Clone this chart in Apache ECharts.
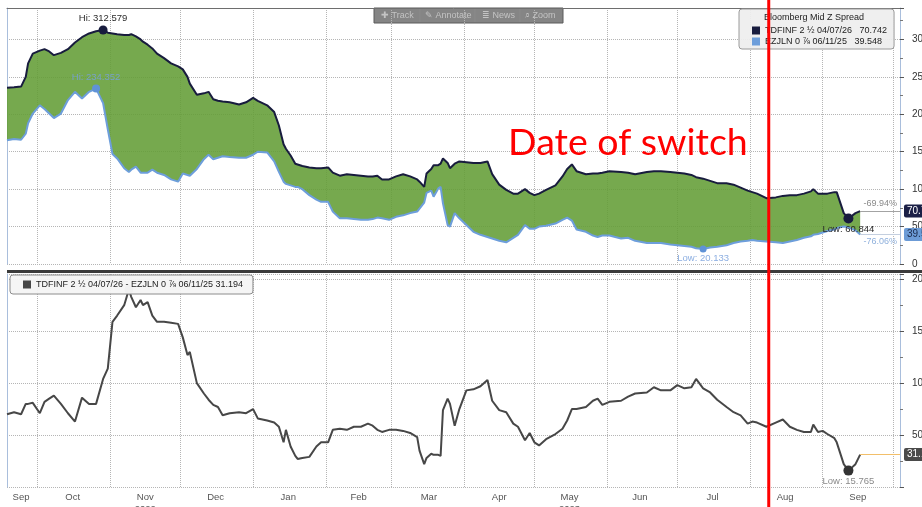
<!DOCTYPE html>
<html>
<head>
<meta charset="utf-8">
<title>TDFINF vs EZJLN - Bloomberg Mid Z Spread</title>
<script src="https://cdn.jsdelivr.net/npm/echarts@6/dist/echarts.min.js"></script>
<style>
  html, body { margin: 0; padding: 0; background: #fff; }
  #chart { width: 922px; height: 507px; }
</style>
</head>
<body>
<div id="chart"></div>
<script>
// sample dates
const dates = [
  '2022-09-18','2022-09-21','2022-09-24','2022-09-26','2022-09-27','2022-09-29','2022-10-02','2022-10-04','2022-10-06','2022-10-08',
  '2022-10-11','2022-10-14','2022-10-17','2022-10-20','2022-10-23','2022-10-26','2022-10-29','2022-10-31','2022-11-02','2022-11-04',
  '2022-11-07','2022-11-09','2022-11-10','2022-11-12','2022-11-14','2022-11-15','2022-11-17','2022-11-19','2022-11-21','2022-11-24',
  '2022-11-27','2022-11-30','2022-12-02','2022-12-04','2022-12-05','2022-12-08','2022-12-11','2022-12-13','2022-12-15','2022-12-17',
  '2022-12-19','2022-12-22','2022-12-26','2022-12-29','2023-01-01','2023-01-03','2023-01-07','2023-01-10','2023-01-12','2023-01-14',
  '2023-01-15','2023-01-17','2023-01-19','2023-01-20','2023-01-22','2023-01-25','2023-01-28','2023-01-30','2023-02-02','2023-02-04',
  '2023-02-07','2023-02-10','2023-02-13','2023-02-16','2023-02-19','2023-02-21','2023-02-23','2023-02-25','2023-02-28','2023-03-03',
  '2023-03-06','2023-03-09','2023-03-12','2023-03-13','2023-03-15','2023-03-16','2023-03-18','2023-03-19','2023-03-21','2023-03-22',
  '2023-03-23','2023-03-25','2023-03-26','2023-03-28','2023-03-30','2023-04-02','2023-04-05','2023-04-08','2023-04-11','2023-04-13',
  '2023-04-16','2023-04-19','2023-04-22','2023-04-24','2023-04-27','2023-04-29','2023-05-01','2023-05-03','2023-05-06','2023-05-10',
  '2023-05-13','2023-05-15','2023-05-17','2023-05-19','2023-05-23','2023-05-26','2023-05-28','2023-05-30','2023-06-02','2023-06-07',
  '2023-06-10','2023-06-13','2023-06-18','2023-06-21','2023-06-24','2023-06-28','2023-07-01','2023-07-04','2023-07-07','2023-07-09',
  '2023-07-12','2023-07-15','2023-07-18','2023-07-22','2023-07-25','2023-07-28','2023-07-31','2023-08-02','2023-08-04','2023-08-08',
  '2023-08-12','2023-08-15','2023-08-18','2023-08-21','2023-08-24','2023-08-27','2023-08-28','2023-08-30','2023-09-01','2023-09-03',
  '2023-09-06','2023-09-07','2023-09-10','2023-09-12','2023-09-15','2023-09-17'
];

// TDFINF 2 1/2 04/07/26 - mid Z spread
const tdfinf = [
  235.3, 236, 237, 250, 268, 281, 285, 287, 284, 279,
  282, 287, 296, 303, 308, 311, 312.579, 309, 308, 307,
  306, 306, 307, 304, 300, 297, 293, 288, 281, 275,
  268, 264, 260, 250, 241, 226, 228, 230, 220, 218,
  217, 216, 213, 216, 222, 218, 212, 203, 185, 160,
  154, 145, 134, 133, 131, 129, 128, 128, 129, 122,
  118, 120, 119, 118, 117, 117, 118, 113, 113, 117,
  120, 117, 113, 110, 103, 121, 127, 132, 132, 134,
  141, 135, 128, 134, 137, 136, 135, 135, 137, 120,
  106, 99, 94, 94, 100, 95, 92, 94, 99, 105,
  117, 127, 133, 124, 120, 121, 121, 122, 124, 123,
  122, 120, 123, 124, 124, 123, 122, 121, 119, 116,
  114, 111, 108, 108, 106, 102, 98, 96, 94, 88,
  89, 91, 92, 92, 94, 97, 100, 94, 94, 94,
  96, 96, 68, 60.844, 68, 70.742
];

// EZJLN 0 7/8 06/11/25 - mid Z spread
const ezjln = [
  165.2, 167, 166, 174, 188, 201, 212, 207, 201, 195,
  201, 219, 230, 221, 230, 234.352, 215, 180, 147, 141,
  128, 123, 126, 130, 122, 122, 122, 126, 122, 119,
  113, 110, 121, 119, 118, 127, 140, 146, 140, 142,
  144, 143, 142, 142, 146, 150, 149, 137, 123, 110,
  107, 105, 103, 103, 100, 92, 86, 83, 83, 70,
  61, 61, 60, 59, 59, 60, 62, 61, 59, 63,
  65, 68, 70, 74, 82, 95, 98, 90, 101, 103,
  81, 52, 50, 68, 61, 52, 43, 39, 36, 34,
  31, 29, 35, 39, 52, 47, 47, 50, 51, 54,
  59, 62, 58, 46, 43, 38, 36, 38, 38, 34,
  35, 31, 28, 28, 28, 26, 25, 24, 23, 21,
  20.133, 22, 23, 25, 28, 30, 31, 32, 31, 30,
  29, 28, 30, 32, 35, 37, 39, 40, 42, 44,
  46, 48, 50, 49, 45, 39.548
];

// TDFINF - EZJLN (lower panel)
const spread = [
  70, 72, 70, 80, 80, 81, 71, 82, 85, 88,
  80, 71, 63, 86, 80, 80, 104, 114, 159, 165,
  175, 190, 183, 173, 180, 175, 178, 165, 159, 159,
  158, 157, 144, 127, 130, 100, 90, 84, 79, 77,
  69, 71, 72, 71, 75, 66, 64, 62, 58, 43,
  55, 39, 30, 27, 28, 29, 39, 43, 43, 55,
  56, 55, 58, 58, 61, 59, 55, 53, 55, 55,
  54, 52, 48, 35, 22, 28, 32, 31, 31, 30,
  74, 85, 80, 59, 75, 93, 94, 97, 103, 83,
  74, 72, 61, 58, 45, 52, 43, 40, 46, 51,
  56, 64, 75, 75, 77, 83, 85, 79, 82, 83,
  87, 90, 91, 96, 93, 93, 98, 95, 96, 104,
  95, 91, 84, 77, 72, 69, 61, 63, 62, 58,
  62, 65, 58, 55, 53, 53, 60, 53, 54, 51,
  47, 43, 22, 15.765, 22, 31.194
];

// x axis: grid lines at month starts, labels in mid month
const monthStarts = [
  '2022-10-01','2022-11-01','2022-12-01','2023-01-01','2023-02-01','2023-03-01',
  '2023-04-01','2023-05-01','2023-06-01','2023-07-01','2023-08-01','2023-09-01','2023-10-01'
];
const labelDates = [
  '2022-09-24','2022-10-16','2022-11-16','2022-12-16','2023-01-16','2023-02-15','2023-03-17',
  '2023-04-16','2023-05-16','2023-06-15','2023-07-16','2023-08-16','2023-09-16'
];
const monthLabels = ['Sep','Oct','Nov','Dec','Jan','Feb','Mar','Apr','May','Jun','Jul','Aug','Sep'];
const yearLabels = ['', '', '2022', '', '', '', '', '', '2023', '', '', '', ''];

const xMin = '2022-09-18';
const xMax = '2023-10-04';
const switchDate = '2023-08-09';

const topName = 'TDFINF 2 ½ 04/07/26';
const lowName = 'EZJLN 0 ⅞ 06/11/25';
const diffName = topName + ' - ' + lowName;

const FONT = 'Liberation Sans';
const ts = d => +echarts.time.parse(d);
const pair = arr => dates.map((d, i) => [ts(d), arr[i]]);
const last = arr => arr[arr.length - 1];
const pct = arr => ((last(arr) / arr[0] - 1) * 100).toFixed(2) + '%';

const labelTs = labelDates.map(ts);
const fmtMonth = value => {
  let best = 0;
  labelTs.forEach((t, i) => { if (Math.abs(t - value) < Math.abs(labelTs[best] - value)) best = i; });
  return yearLabels[best] ? monthLabels[best] + '\n' + yearLabels[best] : monthLabels[best];
};

const dotted = { show: true, lineStyle: { color: '#b5b5b5', type: 'dotted', width: 1 } };
const edgeLine = { show: true, onZero: false, lineStyle: { color: '#a9bedc', width: 1 } };

// end-of-series tag + guide line to the right axis
const endLine = (arr, lineColor, tag, pctText) => {
  const y = last(arr);
  const from = ts(last(dates));
  const items = [[
    { coord: [from, y], label: {
        show: true, position: 'end', distance: 4, formatter: String(y),
        color: tag.color, backgroundColor: tag.bg, padding: [2, 3, 1, 3], borderRadius: 2,
        fontSize: 10, fontFamily: FONT } },
    { coord: [ts(xMax), y] }
  ]];
  if (pctText) {
    items.push([
      { coord: [from, y], label: {
          show: true, position: pctText.pos, distance: 3, formatter: pctText.text,
          color: pctText.color, fontSize: 9, fontFamily: FONT } },
      { coord: [ts(xMax), y] }
    ]);
  }
  return {
    silent: true, symbol: ['none', 'none'], animation: false,
    lineStyle: { color: lineColor, type: 'solid', width: 1 },
    data: items
  };
};

// Hi / Low markers
const hiLow = (hiColor, lowColor, textColor, hiSize, lowSize, showHi) => ({
  silent: true, symbol: 'circle', animation: false,
  label: { fontSize: 9.5, fontFamily: FONT, color: textColor, formatter: p => p.name + ': ' + p.value },
  data: [
    { type: 'max', name: 'Hi', symbolSize: hiSize, itemStyle: { color: hiColor },
      label: { show: showHi, position: 'top', distance: 2 } },
    { type: 'min', name: 'Low', symbolSize: lowSize, itemStyle: { color: lowColor },
      label: { position: 'bottom', distance: 1 } }
  ]
});

const xAxisBase = (grid) => ({
  type: 'value', gridIndex: grid, min: ts(xMin), max: ts(xMax), scale: true,
  axisTick: { show: false, customValues: monthStarts.map(ts) },
  splitLine: dotted
});

const chart = echarts.init(document.getElementById('chart'));

const option = {
  animation: false,
  backgroundColor: '#fff',
  title: {
    text: 'Bloomberg Mid Z Spread', left: 764, top: 13, padding: 0, z: 12,
    textStyle: { fontSize: 9, fontWeight: 'normal', fontFamily: FONT, color: '#222' }
  },
  legend: [
    {
      data: [topName, lowName], orient: 'vertical', left: 739, top: 9, z: 10,
      icon: 'rect', itemWidth: 8, itemHeight: 8, itemGap: 2,
      padding: [17, 7, 3, 13],
      backgroundColor: 'rgba(238,238,238,0.93)', borderColor: '#9a9a9a', borderWidth: 1, borderRadius: 3,
      textStyle: { fontSize: 9, fontFamily: FONT, color: '#222' },
      formatter: name => name + '   ' + (name === topName ? last(tdfinf) : last(ezjln))
    },
    {
      data: [diffName], left: 10, top: 275, z: 10,
      icon: 'rect', itemWidth: 8, itemHeight: 8,
      padding: [5, 10, 5, 13],
      backgroundColor: 'rgba(244,244,244,0.95)', borderColor: '#8c8c8c', borderWidth: 1, borderRadius: 3,
      textStyle: { fontSize: 9, fontFamily: FONT, color: '#222' },
      formatter: name => name + ' ' + last(spread)
    }
  ],
  grid: [
    { left: 7, right: 22, top: 8, height: 256, containLabel: false, outerBoundsMode: 'none' },
    { left: 7, right: 22, top: 274, height: 213, containLabel: false, outerBoundsMode: 'none' }
  ],
  xAxis: [
    Object.assign(xAxisBase(0), {
      position: 'top',
      axisLine: { show: true, onZero: false, lineStyle: { color: '#6e6e6e' } },
      axisLabel: { show: false }
    }),
    Object.assign(xAxisBase(1), {
      position: 'bottom',
      axisLine: { show: false },
      axisLabel: {
        customValues: labelTs, formatter: fmtMonth, hideOverlap: false,
        color: '#555', fontSize: 9.5, fontFamily: FONT, margin: 4, lineHeight: 12
      }
    })
  ],
  yAxis: [
    {
      type: 'value', gridIndex: 0, position: 'right', min: 0, max: 342, interval: 50,
      axisLine: edgeLine,
      axisTick: { show: true, length: 4, lineStyle: { color: '#555' } },
      minorTick: { show: true, splitNumber: 2, length: 3, lineStyle: { color: '#777' } },
      axisLabel: { color: '#333', fontSize: 10, fontFamily: FONT, margin: 12, showMaxLabel: false },
      splitLine: dotted
    },
    {
      type: 'value', gridIndex: 0, position: 'left',
      axisLine: edgeLine, axisTick: { show: false }, axisLabel: { show: false }, splitLine: { show: false }
    },
    {
      type: 'value', gridIndex: 1, position: 'right', min: 0, max: 205, interval: 50,
      axisLine: edgeLine,
      axisTick: { show: true, length: 4, lineStyle: { color: '#555' } },
      minorTick: { show: true, splitNumber: 2, length: 3, lineStyle: { color: '#777' } },
      axisLabel: { color: '#333', fontSize: 10, fontFamily: FONT, margin: 12, showMinLabel: false, showMaxLabel: false },
      splitLine: dotted
    },
    {
      type: 'value', gridIndex: 1, position: 'left',
      axisLine: edgeLine, axisTick: { show: false }, axisLabel: { show: false }, splitLine: { show: false }
    }
  ],
  series: [
    {
      // green band between the two spread lines
      name: 'band', type: 'custom', xAxisIndex: 0, yAxisIndex: 0, silent: true, z: 1, clip: true,
      data: dates.map((d, i) => [ts(d), tdfinf[i], ezjln[i]]),
      encode: { x: 0, y: [1, 2] },
      renderItem: (params, api) => {
        if (params.dataIndex !== 0) return null;
        const upper = dates.map((d, i) => api.coord([ts(d), tdfinf[i]]));
        const lower = dates.map((d, i) => api.coord([ts(d), ezjln[i]])).reverse();
        return {
          type: 'polygon',
          shape: { points: upper.concat(lower) },
          style: { fill: 'rgb(99,157,54)', opacity: 0.88 }
        };
      }
    },
    {
      name: topName, type: 'line', xAxisIndex: 0, yAxisIndex: 0,
      data: pair(tdfinf), symbol: 'none', color: '#181c3e',
      lineStyle: { width: 2, color: '#181c3e' }, z: 3,
      markPoint: hiLow('#181c3e', '#181c3e', '#2a2a2a', 9, 10, true),
      markLine: endLine(tdfinf, '#a3a3a3', { bg: '#1b2046', color: '#fff' },
        { text: pct(tdfinf), pos: 'insideEndTop', color: '#8a8a8a' })
    },
    {
      name: lowName, type: 'line', xAxisIndex: 0, yAxisIndex: 0,
      data: pair(ezjln), symbol: 'none', color: '#6d9edb',
      lineStyle: { width: 2, color: '#6d9edb' }, z: 2,
      markPoint: hiLow('#5f92d6', '#5f92d6', 'rgba(120,160,220,0.85)', 8, 7, true),
      markLine: endLine(ezjln, '#c4cfdf', { bg: '#6c9bd6', color: '#1a2a4a' },
        { text: pct(ezjln), pos: 'insideEndBottom', color: '#8fb0dc' })
    },
    {
      name: diffName, type: 'line', xAxisIndex: 1, yAxisIndex: 2,
      data: pair(spread), symbol: 'none', color: '#474747',
      lineStyle: { width: 2, color: '#474747' }, z: 3,
      markPoint: hiLow('#9a9a9a', '#333333', '#8a8a8a', 9, 10, false),
      markLine: endLine(spread, '#f2bf6a', { bg: '#4a4a4a', color: '#fff' }, null)
    }
  ],
  graphic: {
    elements: [
      // panel separator
      { id: 'sep', type: 'rect', shape: { x: 7, y: 270, width: 915, height: 3 }, style: { fill: '#3b3b3b' }, z: 50 },
      // chart toolbar
      {
        id: 'toolbar', type: 'group', x: 374, y: 8, z: 60,
        children: [
          { type: 'rect', shape: { x: 0, y: 0, width: 189, height: 15 }, style: { fill: 'rgba(112,112,112,0.85)', stroke: '#5a5a5a' } },
          { type: 'line', shape: { x1: 46, y1: 1, x2: 46, y2: 14 }, style: { stroke: '#8a8a8a' } },
          { type: 'line', shape: { x1: 101, y1: 1, x2: 101, y2: 14 }, style: { stroke: '#8a8a8a' } },
          { type: 'line', shape: { x1: 146, y1: 1, x2: 146, y2: 14 }, style: { stroke: '#8a8a8a' } },
          { type: 'text', x: 7, y: 3, style: { text: '✚ Track', fill: '#c4c4c4', fontSize: 9, fontFamily: FONT } },
          { type: 'text', x: 51, y: 3, style: { text: '✎ Annotate', fill: '#c4c4c4', fontSize: 9, fontFamily: FONT } },
          { type: 'text', x: 108, y: 3, style: { text: '≣ News', fill: '#c4c4c4', fontSize: 9, fontFamily: FONT } },
          { type: 'text', x: 151, y: 3, style: { text: '⌕ Zoom', fill: '#c4c4c4', fontSize: 9, fontFamily: FONT } }
        ]
      }
    ]
  }
};

chart.setOption(option);

// red "date of switch" marker, positioned through the x axis scale
const switchX = chart.convertToPixel({ xAxisIndex: 0 }, ts(switchDate));
chart.setOption({
  graphic: {
    elements: [
      { id: 'switchLine', type: 'line', z: 100,
        shape: { x1: switchX, y1: 0, x2: switchX, y2: 507 },
        style: { stroke: '#ff0000', lineWidth: 3 } },
      { id: 'switchText', type: 'text', z: 100, x: switchX - 21, y: 143,
        style: { text: 'Date of switch', fill: '#ff0000', fontSize: 37.5, fontFamily: 'Lato',
                 align: 'right', verticalAlign: 'middle' } }
    ]
  }
});
</script>
</body>
</html>
